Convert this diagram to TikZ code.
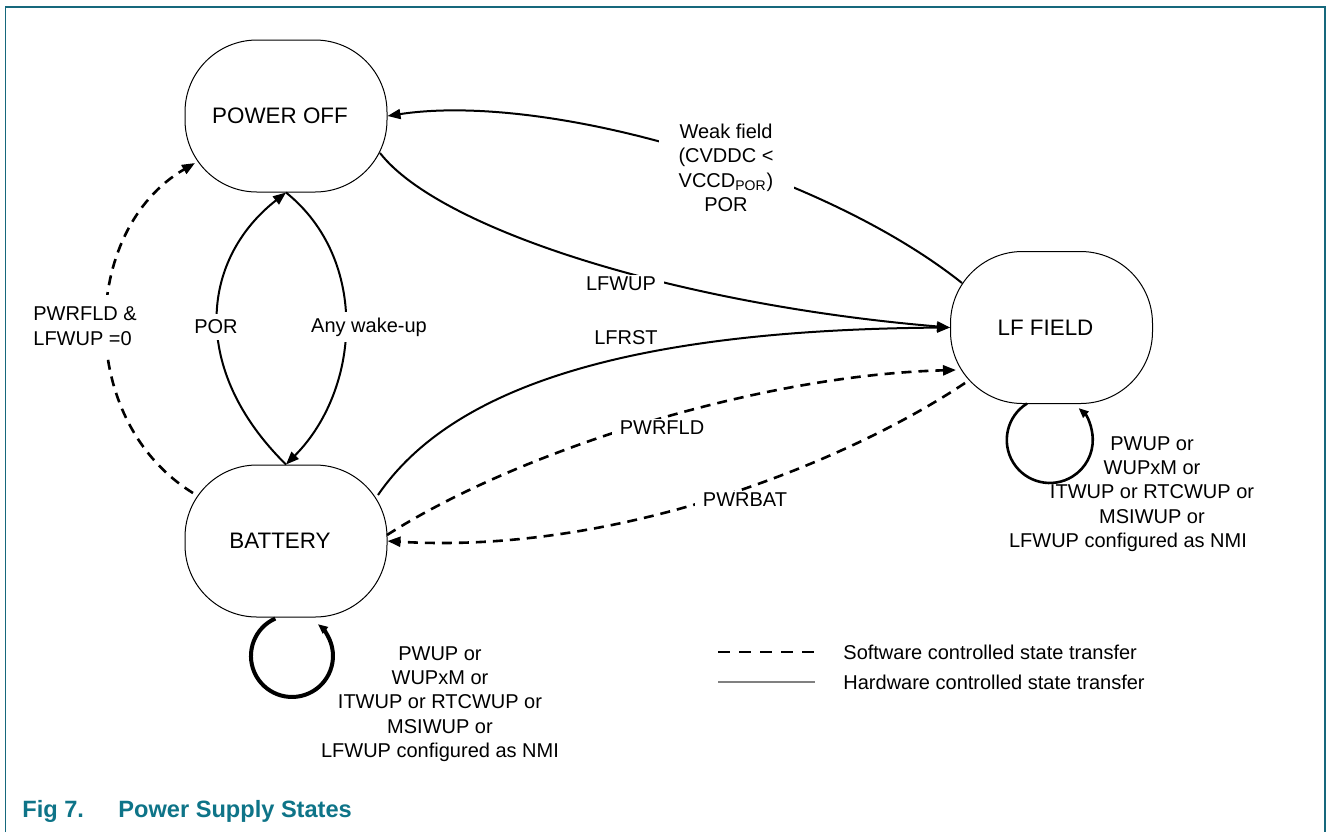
\documentclass[tikz,border=0pt]{standalone}
\usepackage{fontspec}
\setmainfont{Liberation Sans}
\usetikzlibrary{arrows.meta,calc}
\definecolor{frameteal}{RGB}{22,104,124}
\definecolor{captionteal}{RGB}{14,116,136}
\tikzset{
  state/.style={draw, line width=0.5pt, rounded corners=36pt,
    minimum width=101pt, minimum height=76pt, inner sep=0pt,
    font=\fontsize{11.2}{13}\selectfont},
  tip/.style={-{Triangle[length=6.5pt,width=5pt]}},
  smalltip/.style={-{Triangle[length=5pt,width=4pt]}},
  hw/.style={line width=1pt, tip},
  sw/.style={line width=1.3pt, dash pattern=on 5pt off 3.5pt, tip},
  lbl/.style={font=\fontsize{10}{12.2}\selectfont, align=center, inner sep=1pt},
  cut/.style={lbl, fill=white},
  capt/.style={font=\bfseries\fontsize{11.8}{14}\selectfont, text=captionteal,
    anchor=base west, inner sep=0pt},
}
% state names sit a little left of the box centre
\newcommand{\statetext}[1]{#1\hspace*{6pt}\mbox{}}
\begin{document}
\begin{tikzpicture}[x=0.5pt, y=-0.5pt]
\useasboundingbox (0,0) rectangle (1327,832);
\fill[white] (0,0) rectangle (1327,832);

% outer frame
\draw[frameteal, line width=0.8pt] (5.5,832) -- (5.5,7) -- (1325,7) -- (1325,832);

% states
\node[state] (po)  at (286,116)    {\statetext{POWER OFF}};
\node[state] (bat) at (286,541)    {\statetext{BATTERY}};
\node[state] (lf)  at (1051.5,327.5) {\statetext{LF FIELD}};

% hardware controlled transitions
\draw[hw] ($(lf)+(-89.5,-44.5)$) .. controls (820,170) and (545,92) .. (po.east);
\draw[hw] ($(po)+(94,37)$) .. controls (440,230) and (680,305) .. (lf.west);
\draw[hw] ($(bat)+(92,-46)$) .. controls (450,390) and (620,330) .. (lf.west);
\draw[hw] (bat.north) .. controls (190,370) and (200,260) .. (po.south);
\draw[hw] (po.south) .. controls (370,260) and (360,390) .. (bat.north);

% software controlled transitions
\draw[sw] ($(bat)+(101,-6)$) .. controls (520,450) and (760,375) .. ($(lf)+(-95.5,42.5)$);
\draw[sw] ($(lf)+(-86.5,55.5)$) .. controls (850,460) and (620,555) .. (bat.east);
\draw[sw] ($(bat)+(-93,-48)$) .. controls (75,420) and (80,230) .. ($(po)+(-91,47)$);

% self loops (circular arcs hanging below the states)
\draw[line width=1.3pt, smalltip] ($(lf)+(-24.5,76)$) arc[start angle=238, end angle=-48, radius=43];
\draw[line width=2pt, smalltip] ($(bat)+(-10.7,77.5)$) arc[start angle=246, end angle=-51, radius=41];

% transition labels
\node[cut, inner xsep=10pt] (weak) at (726,168) {Weak field\\(CVDDC <\\VCCD\textsubscript{POR})\\POR};
\node[cut, inner xsep=4pt] (lfwup) at (621,284) {LFWUP};
\node[cut, inner xsep=4pt] (lfrst) at (626,338) {LFRST};
\node[cut, inner xsep=4pt] (pwrfld) at (662,428) {PWRFLD};
\node[cut, inner xsep=4pt] (pwrbat) at (745,500) {PWRBAT};
\node[cut, inner ysep=3pt] (por) at (216,327) {POR};
\node[cut, inner ysep=3pt] (wake) at (369,327) {Any wake-up};
\node[cut, align=left, anchor=west, inner ysep=6pt] (pwrlf) at (31,326) {PWRFLD \&\\LFWUP =0};
\node[lbl] (lfloop) at (1152,494) {PWUP or\\WUPxM or\\ITWUP or RTCWUP or\\MSIWUP or\\LFWUP configured as NMI\hspace*{24pt}\mbox{}};
\node[lbl] (batloop) at (440,704) {PWUP or\\WUPxM or\\ITWUP or RTCWUP or\\MSIWUP or\\LFWUP configured as NMI};

% legend
\coordinate (swA) at (718,652);
\coordinate (swB) at (815,652);
\coordinate (hwA) at (718,682);
\coordinate (hwB) at (815,682);
\draw[line width=1.3pt, dash pattern=on 6pt off 4.5pt] (swA) -- (swB);
\draw[gray, line width=0.6pt] (hwA) -- (hwB);
\node[lbl, anchor=west, inner sep=0pt] (swtext) at (843,652) {Software controlled state transfer};
\node[lbl, anchor=west, inner sep=0pt] (hwtext) at (843,682) {Hardware controlled state transfer};

% caption
\node[capt] (fig) at (22,817) {Fig 7.};
\node[capt] (figtitle) at (118,817) {Power Supply States};
\end{tikzpicture}
\end{document}
